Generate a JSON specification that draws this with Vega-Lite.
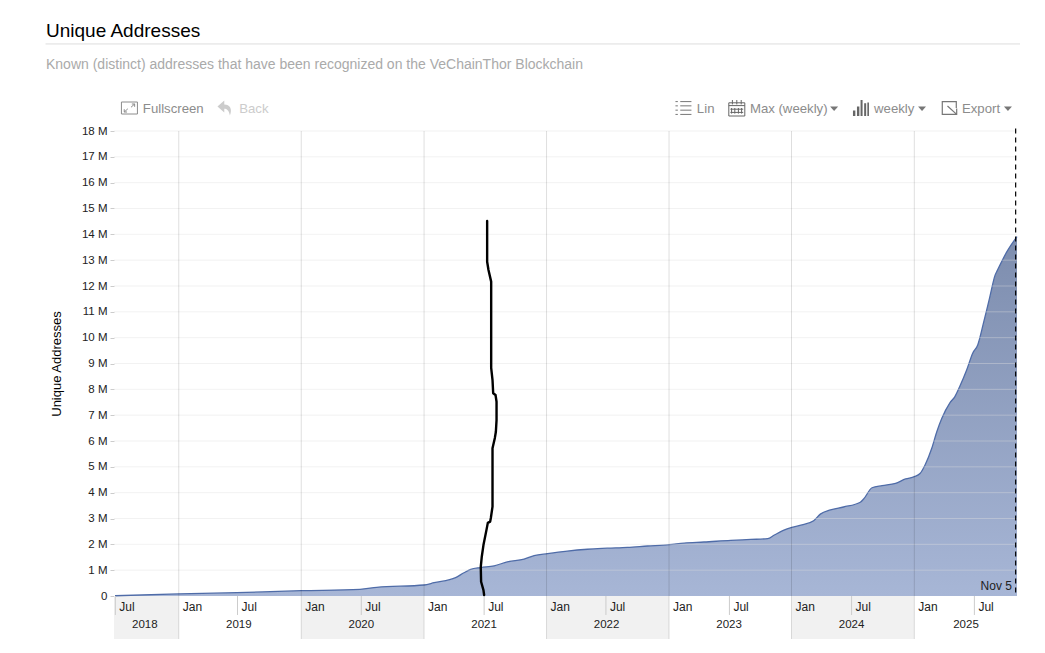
{
  "$schema": "https://vega.github.io/schema/vega-lite/v6.json",
  "width": 903,
  "height": 465,
  "autosize": "none",
  "padding": {"left": 114, "top": 131, "right": 28, "bottom": 57},
  "background": "white",
  "config": {"view": {"stroke": null}, "font": "Liberation Sans"},
  "title": {
    "text": "Unique Addresses",
    "subtitle": "Known (distinct) addresses that have been recognized on the VeChainThor Blockchain",
    "anchor": "start",
    "frame": "group",
    "dx": -68,
    "offset": -29,
    "font": "Liberation Sans",
    "fontSize": 19,
    "fontWeight": "normal",
    "color": "#000000",
    "subtitleFont": "Liberation Sans",
    "subtitleFontSize": 14,
    "subtitleColor": "#aaaaaa",
    "subtitlePadding": 17
  },
  "datasets": {
    "series": [
      {"date": "2018-06-25", "value": 10000},
      {"date": "2019-01-01", "value": 80000},
      {"date": "2019-06-23", "value": 130000},
      {"date": "2020-01-01", "value": 205000},
      {"date": "2020-06-24", "value": 260000},
      {"date": "2020-08-13", "value": 335000},
      {"date": "2021-01-01", "value": 425000},
      {"date": "2021-01-31", "value": 515000},
      {"date": "2021-04-05", "value": 710000},
      {"date": "2021-04-30", "value": 900000},
      {"date": "2021-05-20", "value": 1030000},
      {"date": "2021-06-19", "value": 1100000},
      {"date": "2021-07-29", "value": 1170000},
      {"date": "2021-09-06", "value": 1320000},
      {"date": "2021-10-26", "value": 1430000},
      {"date": "2021-11-25", "value": 1560000},
      {"date": "2022-01-04", "value": 1640000},
      {"date": "2022-03-04", "value": 1740000},
      {"date": "2022-05-03", "value": 1810000},
      {"date": "2022-07-01", "value": 1850000},
      {"date": "2022-08-30", "value": 1885000},
      {"date": "2022-10-29", "value": 1935000},
      {"date": "2023-01-01", "value": 1985000},
      {"date": "2023-02-15", "value": 2050000},
      {"date": "2023-04-15", "value": 2090000},
      {"date": "2023-07-04", "value": 2155000},
      {"date": "2023-09-02", "value": 2190000},
      {"date": "2023-10-22", "value": 2220000},
      {"date": "2023-11-11", "value": 2360000},
      {"date": "2023-12-06", "value": 2530000},
      {"date": "2024-01-02", "value": 2660000},
      {"date": "2024-02-01", "value": 2750000},
      {"date": "2024-03-07", "value": 2915000},
      {"date": "2024-03-27", "value": 3170000},
      {"date": "2024-04-26", "value": 3330000},
      {"date": "2024-06-04", "value": 3445000},
      {"date": "2024-07-24", "value": 3630000},
      {"date": "2024-08-03", "value": 3755000},
      {"date": "2024-08-28", "value": 4190000},
      {"date": "2024-09-27", "value": 4270000},
      {"date": "2024-11-06", "value": 4360000},
      {"date": "2024-12-06", "value": 4530000},
      {"date": "2025-01-01", "value": 4620000},
      {"date": "2025-01-18", "value": 4740000},
      {"date": "2025-02-02", "value": 5070000},
      {"date": "2025-02-22", "value": 5720000},
      {"date": "2025-03-09", "value": 6360000},
      {"date": "2025-03-24", "value": 6880000},
      {"date": "2025-04-17", "value": 7480000},
      {"date": "2025-05-02", "value": 7720000},
      {"date": "2025-05-17", "value": 8130000},
      {"date": "2025-06-06", "value": 8750000},
      {"date": "2025-06-24", "value": 9400000},
      {"date": "2025-07-09", "value": 9720000},
      {"date": "2025-07-26", "value": 10560000},
      {"date": "2025-08-13", "value": 11520000},
      {"date": "2025-08-30", "value": 12430000},
      {"date": "2025-09-06", "value": 12620000},
      {"date": "2025-10-04", "value": 13330000},
      {"date": "2025-11-03", "value": 13910000}
    ],
    "scribble": [
      {"seq": 1, "date": "2021-07-08", "value": 14520000},
      {"seq": 2, "date": "2021-07-08", "value": 12940000},
      {"seq": 3, "date": "2021-07-12", "value": 12620000},
      {"seq": 4, "date": "2021-07-20", "value": 12170000},
      {"seq": 5, "date": "2021-07-20", "value": 8830000},
      {"seq": 6, "date": "2021-07-24", "value": 8360000},
      {"seq": 7, "date": "2021-07-26", "value": 7850000},
      {"seq": 8, "date": "2021-08-02", "value": 7780000},
      {"seq": 9, "date": "2021-08-05", "value": 7520000},
      {"seq": 10, "date": "2021-08-05", "value": 6810000},
      {"seq": 11, "date": "2021-08-03", "value": 6360000},
      {"seq": 12, "date": "2021-07-31", "value": 6120000},
      {"seq": 13, "date": "2021-07-24", "value": 5720000},
      {"seq": 14, "date": "2021-07-24", "value": 3460000},
      {"seq": 15, "date": "2021-07-19", "value": 3020000},
      {"seq": 16, "date": "2021-07-17", "value": 2880000},
      {"seq": 17, "date": "2021-07-10", "value": 2830000},
      {"seq": 18, "date": "2021-07-06", "value": 2560000},
      {"seq": 19, "date": "2021-06-27", "value": 1970000},
      {"seq": 20, "date": "2021-06-22", "value": 1520000},
      {"seq": 21, "date": "2021-06-19", "value": 1130000},
      {"seq": 22, "date": "2021-06-20", "value": 550000},
      {"seq": 23, "date": "2021-06-27", "value": 230000},
      {"seq": 24, "date": "2021-06-29", "value": 40000}
    ],
    "bands": [
      {"date": "2018-06-22", "end": "2019-01-01", "value": 0, "low": -1665000},
      {"date": "2020-01-01", "end": "2021-01-01", "value": 0, "low": -1665000},
      {"date": "2022-01-01", "end": "2023-01-01", "value": 0, "low": -1665000},
      {"date": "2024-01-01", "end": "2025-01-01", "value": 0, "low": -1665000}
    ],
    "yearLines": [
      {"date": "2019-01-01", "value": 18000000, "low": -1665000},
      {"date": "2020-01-01", "value": 18000000, "low": -1665000},
      {"date": "2021-01-01", "value": 18000000, "low": -1665000},
      {"date": "2022-01-01", "value": 18000000, "low": -1665000},
      {"date": "2023-01-01", "value": 18000000, "low": -1665000},
      {"date": "2024-01-01", "value": 18000000, "low": -1665000},
      {"date": "2025-01-01", "value": 18000000, "low": -1665000}
    ],
    "julTicks": [
      {"date": "2018-06-26", "value": 0, "low": -735000},
      {"date": "2019-06-25", "value": 0, "low": -735000},
      {"date": "2020-06-28", "value": 0, "low": -735000},
      {"date": "2021-06-29", "value": 0, "low": -735000},
      {"date": "2022-06-27", "value": 0, "low": -735000},
      {"date": "2023-06-30", "value": 0, "low": -735000},
      {"date": "2024-06-28", "value": 0, "low": -735000},
      {"date": "2025-06-29", "value": 0, "low": -735000}
    ],
    "monthLabels": [
      {"date": "2018-06-26", "value": -440000, "label": "Jul"},
      {"date": "2019-01-01", "value": -440000, "label": "Jan"},
      {"date": "2019-06-25", "value": -440000, "label": "Jul"},
      {"date": "2020-01-01", "value": -440000, "label": "Jan"},
      {"date": "2020-06-28", "value": -440000, "label": "Jul"},
      {"date": "2021-01-01", "value": -440000, "label": "Jan"},
      {"date": "2021-06-29", "value": -440000, "label": "Jul"},
      {"date": "2022-01-01", "value": -440000, "label": "Jan"},
      {"date": "2022-06-27", "value": -440000, "label": "Jul"},
      {"date": "2023-01-01", "value": -440000, "label": "Jan"},
      {"date": "2023-06-30", "value": -440000, "label": "Jul"},
      {"date": "2024-01-01", "value": -440000, "label": "Jan"},
      {"date": "2024-06-28", "value": -440000, "label": "Jul"},
      {"date": "2025-01-01", "value": -440000, "label": "Jan"},
      {"date": "2025-06-29", "value": -440000, "label": "Jul"}
    ],
    "yearLabels": [
      {"date": "2018-09-22", "value": -1110000, "label": "2018"},
      {"date": "2019-06-29", "value": -1110000, "label": "2019"},
      {"date": "2020-06-28", "value": -1110000, "label": "2020"},
      {"date": "2021-06-29", "value": -1110000, "label": "2021"},
      {"date": "2022-06-29", "value": -1110000, "label": "2022"},
      {"date": "2023-06-29", "value": -1110000, "label": "2023"},
      {"date": "2024-06-28", "value": -1110000, "label": "2024"},
      {"date": "2025-06-04", "value": -1110000, "label": "2025"}
    ],
    "gridRows": [
      {"date": "2018-06-22", "end": "2025-11-03", "value": 1000000},
      {"date": "2018-06-22", "end": "2025-11-03", "value": 2000000},
      {"date": "2018-06-22", "end": "2025-11-03", "value": 3000000},
      {"date": "2018-06-22", "end": "2025-11-03", "value": 4000000},
      {"date": "2018-06-22", "end": "2025-11-03", "value": 5000000},
      {"date": "2018-06-22", "end": "2025-11-03", "value": 6000000},
      {"date": "2018-06-22", "end": "2025-11-03", "value": 7000000},
      {"date": "2018-06-22", "end": "2025-11-03", "value": 8000000},
      {"date": "2018-06-22", "end": "2025-11-03", "value": 9000000},
      {"date": "2018-06-22", "end": "2025-11-03", "value": 10000000},
      {"date": "2018-06-22", "end": "2025-11-03", "value": 11000000},
      {"date": "2018-06-22", "end": "2025-11-03", "value": 12000000},
      {"date": "2018-06-22", "end": "2025-11-03", "value": 13000000},
      {"date": "2018-06-22", "end": "2025-11-03", "value": 14000000},
      {"date": "2018-06-22", "end": "2025-11-03", "value": 15000000},
      {"date": "2018-06-22", "end": "2025-11-03", "value": 16000000},
      {"date": "2018-06-22", "end": "2025-11-03", "value": 17000000},
      {"date": "2018-06-22", "end": "2025-11-03", "value": 18000000}
    ],
    "toolbar": [
      {"date": "2018-09-16", "value": 18850000, "label": "Fullscreen"},
      {"date": "2023-03-25", "value": 18850000, "label": "Lin"},
      {"date": "2023-08-30", "value": 18850000, "label": "Max (weekly)"},
      {"date": "2024-09-03", "value": 18850000, "label": "weekly"},
      {"date": "2025-05-23", "value": 18850000, "label": "Export"}
    ],
    "carets": [
      {"date": "2024-05-07", "value": 18870000},
      {"date": "2025-01-24", "value": 18870000},
      {"date": "2025-10-07", "value": 18870000}
    ]
  },
  "encoding": {
    "x": {
      "field": "date",
      "type": "temporal",
      "axis": null,
      "scale": {"domain": ["2018-06-22", "2025-11-03"]}
    },
    "y": {
      "field": "value",
      "type": "quantitative",
      "scale": {"domain": [0, 18000000], "nice": false},
      "axis": {
        "title": "Unique Addresses",
        "titleFont": "Liberation Sans",
        "titleFontSize": 13,
        "titleFontWeight": "normal",
        "titleColor": "#000000",
        "titlePadding": 18,
        "values": [0, 1000000, 2000000, 3000000, 4000000, 5000000, 6000000, 7000000, 8000000, 9000000, 10000000, 11000000, 12000000, 13000000, 14000000, 15000000, 16000000, 17000000, 18000000],
        "labelExpr": "datum.value == 0 ? '0' : (datum.value / 1000000) + ' M'",
        "labelFont": "Liberation Sans",
        "labelFontSize": 11.5,
        "labelColor": "#222222",
        "labelPadding": 3,
        "tickColor": "#cccccc",
        "tickSize": 4,
        "domain": false,
        "grid": false
      }
    }
  },
  "layer": [
    {
      "data": {"name": "bands"},
      "mark": {"type": "rect", "fill": "#f1f1f1"},
      "encoding": {"x2": {"field": "end"}, "y2": {"field": "low"}}
    },
    {
      "data": {"name": "series"},
      "mark": {
        "type": "area",
        "interpolate": "monotone",
        "opacity": 1,
        "color": {
          "gradient": "linear",
          "x1": 0, "y1": 1, "x2": 0, "y2": 0,
          "stops": [
            {"offset": 0, "color": "#a7b6d6"},
            {"offset": 1, "color": "#7d8dae"}
          ]
        },
        "line": {"color": "#4f6ca8", "strokeWidth": 1.3}
      }
    },
    {
      "data": {"name": "gridRows"},
      "mark": {"type": "rule", "color": "#dedede", "opacity": 0.4},
      "encoding": {"x2": {"field": "end"}}
    },
    {
      "data": {"name": "yearLines"},
      "mark": {"type": "rule", "color": "#000000", "opacity": 0.13},
      "encoding": {"y2": {"field": "low"}}
    },
    {
      "data": {"name": "julTicks"},
      "mark": {"type": "rule", "color": "#cccccc"},
      "encoding": {"y2": {"field": "low"}}
    },
    {
      "data": {"name": "monthLabels"},
      "mark": {"type": "text", "align": "left", "baseline": "middle", "dx": 4, "fontSize": 12, "color": "#222222"},
      "encoding": {"text": {"field": "label"}}
    },
    {
      "data": {"name": "yearLabels"},
      "mark": {"type": "text", "align": "center", "baseline": "middle", "fontSize": 11.5, "color": "#222222"},
      "encoding": {"text": {"field": "label"}}
    },
    {
      "data": {"values": [{"date": "2025-10-30", "value": 18100000, "low": 0}]},
      "mark": {"type": "rule", "color": "#000000", "strokeWidth": 1.2, "strokeDash": [5, 4]},
      "encoding": {"y2": {"field": "low"}}
    },
    {
      "data": {"values": [{"date": "2025-10-19", "value": 400000, "label": "Nov 5"}]},
      "mark": {"type": "text", "align": "right", "baseline": "middle", "fontSize": 12, "color": "#222222"},
      "encoding": {"text": {"field": "label"}}
    },
    {
      "data": {"name": "scribble"},
      "mark": {"type": "line", "color": "#000000", "strokeWidth": 2.4, "strokeCap": "round", "strokeJoin": "round"},
      "encoding": {"order": {"field": "seq", "type": "quantitative"}}
    },
    {
      "data": {"values": [{"date": "2017-11-30", "end": "2025-11-12", "value": 21370000}]},
      "mark": {"type": "rule", "color": "#dddddd"},
      "encoding": {"x2": {"field": "end"}}
    },
    {
      "data": {"name": "toolbar"},
      "mark": {"type": "text", "align": "left", "baseline": "middle", "fontSize": 13.2, "color": "#8c8c8c"},
      "encoding": {"text": {"field": "label"}}
    },
    {
      "data": {"values": [{"date": "2019-06-30", "value": 18850000, "label": "Back"}]},
      "mark": {"type": "text", "align": "left", "baseline": "middle", "fontSize": 13.2, "color": "#cccccc"},
      "encoding": {"text": {"field": "label"}}
    },
    {
      "data": {"name": "carets"},
      "mark": {"type": "point", "shape": "M-1,-0.5H1L0,0.6Z", "size": 64, "filled": true, "color": "#777777", "opacity": 1}
    },
    {
      "data": {"values": [{"date": "2018-08-07", "value": 18890000}]},
      "mark": {"type": "point", "shape": "M-1,-0.75H1V0.75H-1Z M0.2,-0.1L0.65,-0.5M0.65,-0.5H0.3M0.65,-0.5V-0.15M-0.2,0.1L-0.65,0.5M-0.65,0.5H-0.3M-0.65,0.5V0.15", "size": 256, "filled": false, "color": "#8c8c8c", "strokeWidth": 1, "opacity": 1}
    },
    {
      "data": {"values": [{"date": "2019-05-19", "value": 18890000}]},
      "mark": {"type": "point", "shape": "M-0.95,-0.2L-0.1,-0.95V-0.45C0.6,-0.45 0.95,0.1 0.6,0.95C0.5,0.3 0.2,0.1 -0.1,0.1V0.55Z", "size": 256, "filled": true, "color": "#cccccc", "opacity": 1}
    },
    {
      "data": {"values": [{"date": "2023-02-13", "value": 18890000}]},
      "mark": {"type": "point", "shape": "M-1,-0.8H-0.7M-0.4,-0.8H1M-1,-0.27H-0.7M-0.4,-0.27H1M-1,0.27H-0.7M-0.4,0.27H1M-1,0.8H-0.7M-0.4,0.8H1", "size": 256, "filled": false, "color": "#777777", "strokeWidth": 1, "opacity": 1}
    },
    {
      "data": {"values": [{"date": "2023-07-22", "value": 18890000}]},
      "mark": {"type": "point", "shape": "M-1,-0.65H1V1H-1ZM-1,-0.3H1M-0.55,-1V-0.45M0,-1V-0.45M0.55,-1V-0.45M-0.65,0V0.7M-0.25,0V0.7M0.2,0V0.7M0.6,0V0.7M-0.8,0.15H0.8M-0.8,0.55H0.8", "size": 256, "filled": false, "color": "#666666", "strokeWidth": 1, "opacity": 1}
    },
    {
      "data": {"values": [{"date": "2024-07-26", "value": 18890000}]},
      "mark": {"type": "point", "shape": "M-1,0.3H-0.7V1H-1ZM-0.5,-0.2H-0.2V1H-0.5ZM-0.05,-1H0.2V1H-0.05ZM0.4,-0.6H0.65V1H0.4ZM0.8,-0.7H1V1H0.8Z", "size": 256, "filled": true, "color": "#666666", "opacity": 1}
    },
    {
      "data": {"values": [{"date": "2025-04-17", "value": 18890000}]},
      "mark": {"type": "point", "shape": "M0.1,0.8H-0.95V-0.8H0.8V0M-0.3,-0.25L0.75,0.7M0.85,0.05V0.8H0.1", "size": 256, "filled": false, "color": "#777777", "strokeWidth": 1.2, "opacity": 1}
    }
  ]
}
